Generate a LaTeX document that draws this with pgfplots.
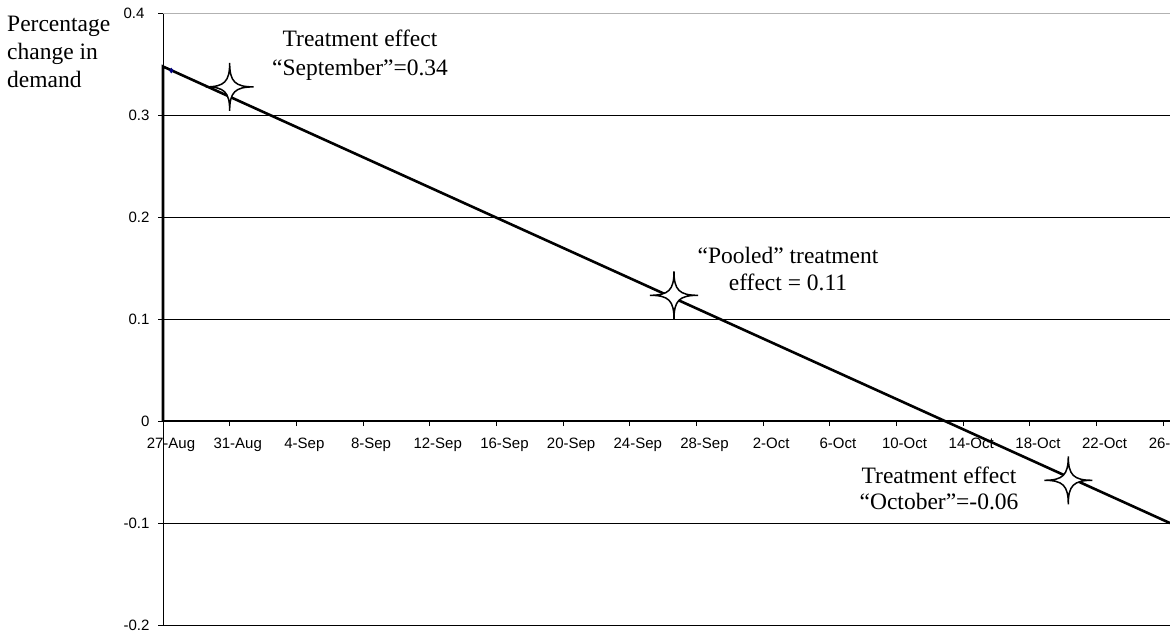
\documentclass[border=0pt]{standalone}
\usepackage{pgfplots}
\pgfplotsset{compat=1.18}
\usepackage{fontspec}
\setmainfont{Liberation Serif}
\newfontfamily\arialf{Liberation Sans}

\pgfdeclareplotmark{star4}{%
  \pgfpathmoveto{\pgfqpoint{0pt}{\pgfplotmarksize}}%
  \pgfpathcurveto{\pgfqpoint{0pt}{0.22\pgfplotmarksize}}{\pgfqpoint{0.22\pgfplotmarksize}{0pt}}{\pgfqpoint{\pgfplotmarksize}{0pt}}%
  \pgfpathcurveto{\pgfqpoint{0.22\pgfplotmarksize}{0pt}}{\pgfqpoint{0pt}{-0.22\pgfplotmarksize}}{\pgfqpoint{0pt}{-\pgfplotmarksize}}%
  \pgfpathcurveto{\pgfqpoint{0pt}{-0.22\pgfplotmarksize}}{\pgfqpoint{-0.22\pgfplotmarksize}{0pt}}{\pgfqpoint{-\pgfplotmarksize}{0pt}}%
  \pgfpathcurveto{\pgfqpoint{-0.22\pgfplotmarksize}{0pt}}{\pgfqpoint{0pt}{0.22\pgfplotmarksize}}{\pgfqpoint{0pt}{\pgfplotmarksize}}%
  \pgfpathclose
  \pgfusepathqfillstroke
}

\definecolor{navydot}{RGB}{0,0,128}

\begin{document}
\begin{tikzpicture}
\useasboundingbox (0,0) rectangle (1170pt,-633pt);
\begin{axis}[
  at={(163pt,-625pt)}, anchor=south west,
  width=1007pt, height=611.5pt, scale only axis,
  xmin=0, xmax=60.4, ymin=-0.2, ymax=0.4,
  clip=false,
  axis x line=middle, axis y line=left,
  x axis line style={-, black, line width=2.5pt},
  y axis line style={-, black, line width=0.9pt},
  hide obscured x ticks=false, hide obscured y ticks=false,
  xtick={0,4,...,60},
  xticklabels={27-Aug,31-Aug,4-Sep,8-Sep,12-Sep,16-Sep,20-Sep,24-Sep,28-Sep,2-Oct,6-Oct,10-Oct,14-Oct,18-Oct,22-Oct,26-Oct},
  xticklabel style={xshift=8pt, yshift=-8pt},
  ytick={-0.2,-0.1,0,0.1,0.2,0.3},
  yticklabels={{-0.2},{-0.1},{0},{0.1},{0.2},{0.3}},
  yticklabel style={xshift=-5pt},
  extra y ticks={0.4}, extra y tick labels={0.4},
  extra y tick style={major grid style={gray!60, line width=1.4pt}, yticklabel style={xshift=-5pt}},
  ticklabel style={font=\arialf\fontsize{15}{17}\selectfont},
  ymajorgrids,
  major grid style={black, line width=0.9pt},
  tick align=outside, major tick length=5pt,
  tick style={black, line width=0.9pt},
]
\addplot[black, line width=2.6pt, no marks] coordinates {(0,0) (0,0.348) (60.4,-0.100)};
\addplot[only marks, mark=diamond*, mark size=2.5pt, color=navydot] coordinates {(0.5,0.344)};
\addplot[only marks, mark=star4, mark size=24pt, mark options={fill=white, draw=black, line width=1.5pt}] coordinates {(4.0,0.328) (30.65,0.1235) (54.3,-0.058)};
\end{axis}
\begin{scope}[every node/.style={inner sep=0pt, font=\fontsize{23.5}{27}\selectfont}]
\node[anchor=base west] at (7pt,-31pt) {Percentage};
\node[anchor=base west] at (7pt,-59pt) {change in};
\node[anchor=base west] at (7pt,-87pt) {demand};
\node[anchor=base] at (360pt,-46pt) {Treatment effect};
\node[anchor=base] at (360pt,-75pt) {“September”=0.34};
\node[anchor=base] at (788pt,-263pt) {“Pooled” treatment};
\node[anchor=base] at (788pt,-290pt) {effect = 0.11};
\node[anchor=base] at (939pt,-483pt) {Treatment effect};
\node[anchor=base] at (939pt,-509pt) {“October”=-0.06};
\end{scope}
\end{tikzpicture}
\end{document}
